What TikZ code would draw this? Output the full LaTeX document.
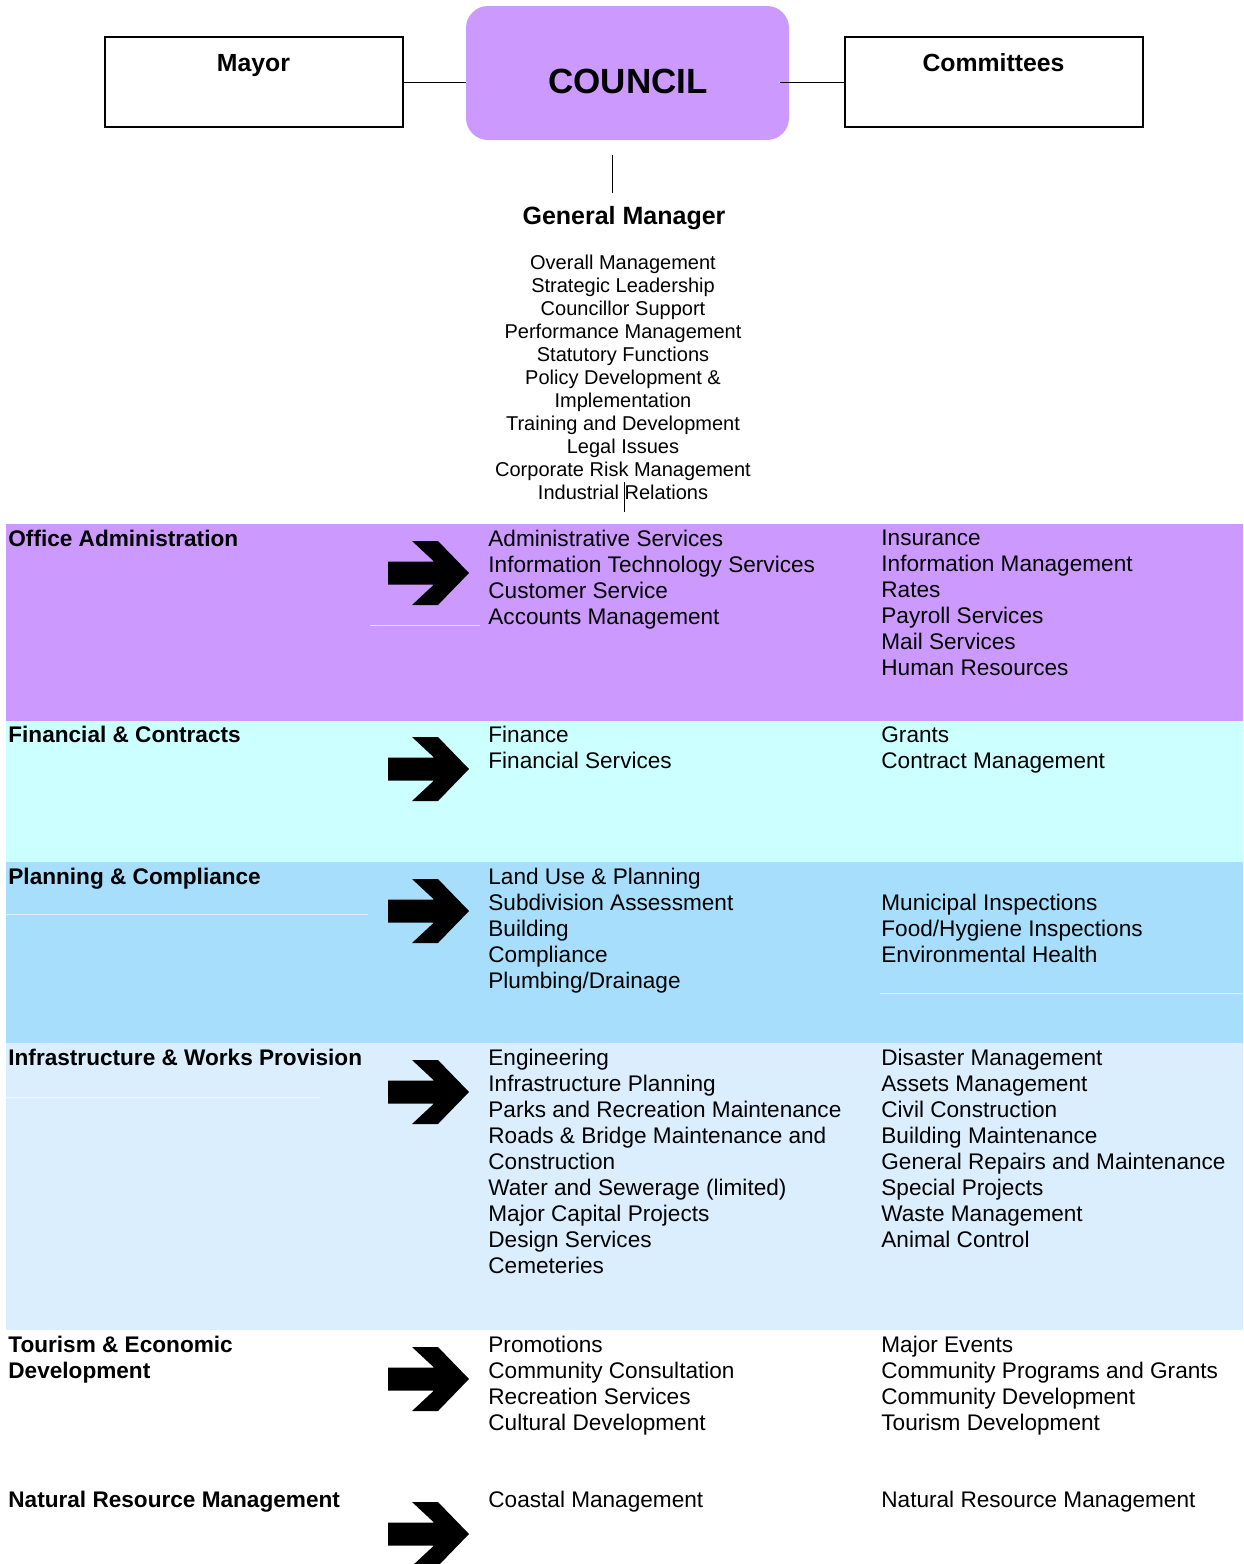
\documentclass[tikz,border=0pt]{standalone}
\usepackage{fontspec}
\setmainfont{Liberation Sans}
\usepackage{tikz}
\definecolor{councilpurple}{HTML}{CC99FF}
\definecolor{financecyan}{HTML}{CCFFFF}
\definecolor{planningblue}{HTML}{A6DEFC}
\definecolor{worksblue}{HTML}{DAEEFE}

\begin{document}
\begin{tikzpicture}[
  x=0.5pt, y=-0.5pt,
  box/.style={draw, line width=1pt, rectangle, minimum width=149pt, minimum height=45pt, inner sep=0pt},
  councilbox/.style={rectangle, rounded corners=11pt, fill=councilpurple, minimum width=161.5pt, minimum height=67pt},
  boxtitle/.style={font=\fontsize{12.4}{15}\selectfont\bfseries, inner sep=0pt, anchor=base},
  dept/.style={font=\fontsize{11.3}{13}\selectfont\bfseries, align=left, inner sep=0pt, anchor=north west},
  item/.style={font=\fontsize{11.3}{13}\selectfont, align=left, inner sep=0pt, anchor=north west},
  duty/.style={font=\fontsize{10}{11.5}\selectfont, align=center, inner sep=0pt, anchor=north},
  faint/.style={white, opacity=0.6, line width=0.4pt},
  bigarrow/.pic={\fill (0,-11.5) -- (46,-11.5) -- (24,-32) -- (50,-32) -- (81,0) -- (50,32) -- (24,32) -- (46,11.5) -- (0,11.5) -- cycle;}
]
\useasboundingbox (0,0) rectangle (1243,1564);

% council and its neighbours
\node[councilbox] (council) at (627.5,73) {};
\node[boxtitle, font=\fontsize{17.5}{20}\selectfont\bfseries] (counciltxt) at (628,93) {COUNCIL};
\node[box] (mayor) at (253.5,82) {};
\node[boxtitle] (mayortxt) at (253.5,71) {Mayor};
\node[box] (committees) at (993.5,82) {};
\node[boxtitle] (committeestxt) at (993.5,71) {Committees};
\draw (mayor.east) -- (mayor.east -| council.west);
\draw (committees.west -| council.east) ++(-9,0) -- (committees.west);

% general manager
\coordinate (gmtop) at (612,193);
\draw (council.south -| gmtop) ++(0,15) -- (gmtop);
\node[boxtitle, font=\fontsize{12.5}{15}\selectfont\bfseries] (gm) at (624,224) {General Manager};
\node[duty] (duties) at (623,254.5) {Overall Management\\Strategic Leadership\\Councillor Support\\Performance Management\\Statutory Functions\\Policy Development \&\\Implementation\\Training and Development\\Legal Issues\\Corporate Risk Management\\Industrial Relations};

% bands
\fill[councilpurple] (6,524) rectangle (1243,721);
\fill[financecyan] (6,721) rectangle (1243,862);
\fill[planningblue] (6,862) rectangle (1243,1043);
\fill[worksblue] (6,1043) rectangle (1243,1330);
\draw[faint] (370,625) -- (480,625);
\draw[faint] (6,914) -- (368,914);
\draw[faint] (880,993) -- (1243,993);
\draw[faint] (6,1097) -- (320,1097);

\coordinate (bandtop) at (624,512);
\draw (bandtop) -- ++(0,-30);

% office administration
\node[dept] (office) at (8,530) {Office Administration};
\node[item] (office2) at (488,530) {Administrative Services\\Information Technology Services\\Customer Service\\Accounts Management};
\node[item] (office3) at (881,530) {Insurance\\Information Management\\Rates\\Payroll Services\\Mail Services\\Human Resources};

% financial
\node[dept] (finance) at (8,726) {Financial \& Contracts};
\node[item] (finance2) at (488,726) {Finance\\Financial Services};
\node[item] (finance3) at (881,726) {Grants\\Contract Management};

% planning
\node[dept] (planning) at (8,868) {Planning \& Compliance};
\node[item] (planning2) at (488,868) {Land Use \& Planning\\Subdivision Assessment\\Building\\Compliance\\Plumbing/Drainage};
\node[item] (planning3) at (881,894) {Municipal Inspections\\Food/Hygiene Inspections\\Environmental Health};

% infrastructure
\node[dept] (works) at (8,1049) {Infrastructure \& Works Provision};
\node[item] (works2) at (488,1049) {Engineering\\Infrastructure Planning\\Parks and Recreation Maintenance\\Roads \& Bridge Maintenance and\\Construction\\Water and Sewerage (limited)\\Major Capital Projects\\Design Services\\Cemeteries};
\node[item] (works3) at (881,1049) {Disaster Management\\Assets Management\\Civil Construction\\Building Maintenance\\General Repairs and Maintenance\\Special Projects\\Waste Management\\Animal Control};

% tourism
\node[dept] (tourism) at (8,1336) {Tourism \& Economic\\Development};
\node[item] (tourism2) at (488,1336) {Promotions\\Community Consultation\\Recreation Services\\Cultural Development};
\node[item] (tourism3) at (881,1336) {Major Events\\Community Programs and Grants\\Community Development\\Tourism Development};

% natural resources
\node[dept] (nrm) at (8,1491) {Natural Resource Management};
\node[item] (nrm2) at (488,1491) {Coastal Management};
\node[item] (nrm3) at (881,1491) {Natural Resource Management};

\foreach \y in {573,769,911,1092,1379,1534}
  \pic at (388,\y) {bigarrow};
\end{tikzpicture}
\end{document}
